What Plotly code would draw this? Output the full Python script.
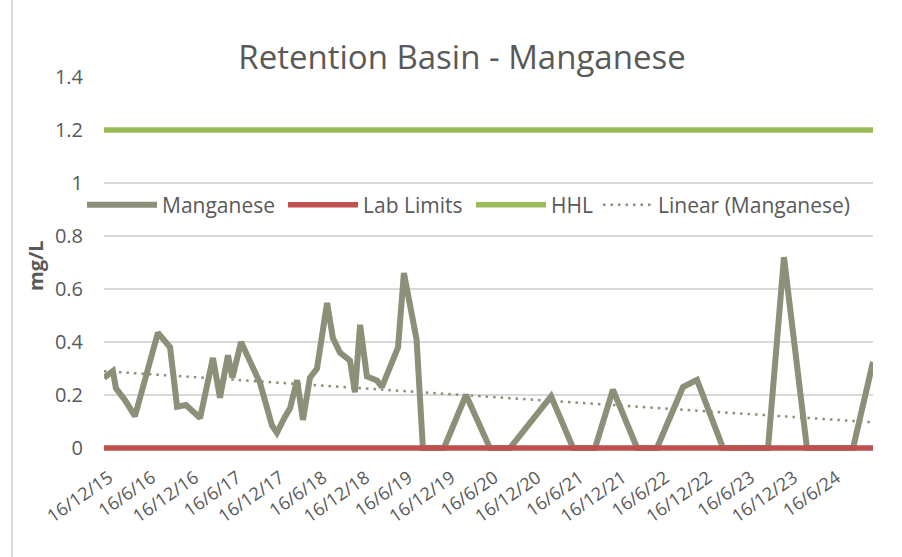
import plotly.graph_objects as go

# ---------------- data ----------------
sample_dates = [
    "2015-12-16", "2016-01-23", "2016-02-05", "2016-03-15", "2016-04-26",
    "2016-08-02", "2016-09-23", "2016-10-23", "2016-11-30", "2017-01-29",
    "2017-03-25", "2017-04-24", "2017-05-28", "2017-06-16", "2017-07-23",
    "2017-10-12", "2017-12-02", "2017-12-23", "2018-01-26", "2018-02-17",
    "2018-03-19", "2018-04-13", "2018-05-13", "2018-06-12", "2018-07-25",
    "2018-08-19", "2018-09-18", "2018-10-31", "2018-11-21", "2018-12-13",
    "2019-01-11", "2019-02-23", "2019-03-16", "2019-05-24", "2019-06-18",
    "2019-08-11", "2019-09-07", "2019-12-06", "2020-03-09", "2020-06-19",
    "2020-09-13", "2021-03-07", "2021-06-09", "2021-09-11", "2021-11-26",
    "2022-03-09", "2022-06-02", "2022-09-21", "2022-11-20", "2023-03-11",
    "2023-09-19", "2023-11-26", "2024-03-03", "2024-09-16", "2024-12-10",
]
manganese = [
    0.265, 0.29, 0.225, 0.18, 0.12,
    0.435, 0.38, 0.156, 0.162, 0.113,
    0.34, 0.19, 0.35, 0.265, 0.40,
    0.245, 0.085, 0.057, 0.117, 0.15,
    0.256, 0.106, 0.265, 0.30, 0.547,
    0.415, 0.36, 0.33, 0.21, 0.465,
    0.27, 0.255, 0.23, 0.38, 0.66,
    0.41, 0.0, 0.0, 0.2, 0.0,
    0.0, 0.195, 0.0, 0.0, 0.22,
    0.0, 0.0, 0.23, 0.257, 0.0,
    0.0, 0.72, 0.0, 0.0, 0.325,
]
lab_limit_value = 0.0
hhl_value = 1.2
trend_dates = [sample_dates[0], sample_dates[-1]]
trend_values = [0.29, 0.097]

tick_dates = [
    "2015-12-16", "2016-06-16", "2016-12-16", "2017-06-16", "2017-12-16",
    "2018-06-16", "2018-12-16", "2019-06-16", "2019-12-16", "2020-06-16",
    "2020-12-16", "2021-06-16", "2021-12-16", "2022-06-16", "2022-12-16",
    "2023-06-16", "2023-12-16", "2024-06-16",
]
tick_labels = [
    "16/12/15", "16/6/16", "16/12/16", "16/6/17", "16/12/17", "16/6/18",
    "16/12/18", "16/6/19", "16/12/19", "16/6/20", "16/12/20", "16/6/21",
    "16/12/21", "16/6/22", "16/12/22", "16/6/23", "16/12/23", "16/6/24",
]
y_ticks = [0, 0.2, 0.4, 0.6, 0.8, 1.0, 1.2, 1.4]
y_tick_labels = ["0", "0.2", "0.4", "0.6", "0.8", "1", "1.2", "1.4"]

# ---------------- styles ----------------
FONT = "Open Sans, Liberation Sans, sans-serif"
TXT = "#595959"
C_MN = "#8b9079"
C_LAB = "#c0504d"
C_HHL = "#9bbb59"

fig = go.Figure()
fig.add_trace(go.Scatter(
    x=sample_dates, y=manganese, mode="lines", name="Manganese",
    line=dict(color=C_MN, width=6), legend="legend",
))
fig.add_trace(go.Scatter(
    x=sample_dates, y=[lab_limit_value] * len(sample_dates), mode="lines",
    name="Lab Limits", line=dict(color=C_LAB, width=5.5), legend="legend2",
))
fig.add_trace(go.Scatter(
    x=sample_dates, y=[hhl_value] * len(sample_dates), mode="lines",
    name="HHL", line=dict(color=C_HHL, width=5.5), legend="legend3",
))
fig.add_trace(go.Scatter(
    x=trend_dates, y=trend_values, mode="lines", name="Linear (Manganese)",
    line=dict(color=C_MN, width=2.5, dash="2.5px,5px"), legend="legend4",
))

W, H = 902, 557
L, R, T, B = 104, 29, 77, 104
plot_w = W - L - R
plot_h = H - T - B


def legend_at(px_left, item_w):
    return dict(
        orientation="h",
        xref="paper", x=(px_left - L) / plot_w, xanchor="left",
        yref="paper", y=(H - B - 205) / plot_h, yanchor="middle",
        font=dict(family=FONT, size=21, color=TXT),
        bgcolor="rgba(255,255,255,0)",
        itemwidth=item_w,
    )


fig.update_layout(
    width=W, height=H,
    margin=dict(l=L, r=R, t=T, b=B),
    paper_bgcolor="white", plot_bgcolor="white",
    font=dict(family=FONT, color=TXT),
    title=dict(
        text="Retention Basin - Manganese",
        font=dict(family=FONT, size=33, color=TXT),
        x=462 / W, xanchor="center", xref="container",
        y=1 - 57 / H, yanchor="middle", yref="container",
    ),
    showlegend=True,
    legend=legend_at(82, 70),
    legend2=legend_at(283, 70),
    legend3=legend_at(471, 70),
    legend4=legend_at(598, 50),
    xaxis=dict(
        type="date",
        range=[sample_dates[0], sample_dates[-1]],
        tickvals=tick_dates, ticktext=tick_labels,
        tickangle=-35,
        tickfont=dict(family=FONT, size=18, color=TXT),
        showgrid=False, zeroline=False, showline=False,
        ticks="", ticklabelstandoff=10, ticklabelshift=5,
    ),
    yaxis=dict(
        range=[-5 / 265, 1.4],
        tickvals=y_ticks, ticktext=y_tick_labels,
        tickfont=dict(family=FONT, size=20, color=TXT),
        showgrid=True, gridcolor="#d9d9d9", gridwidth=2,
        zeroline=False, showline=False, ticks="",
        ticklabelstandoff=20,
    ),
    annotations=[dict(
        text="<b>mg/L</b>", textangle=-90,
        x=(35 - L) / plot_w, xref="paper", xanchor="center",
        y=(H - B - 266) / plot_h, yref="paper", yanchor="middle",
        showarrow=False, font=dict(family=FONT, size=20, color=TXT),
    )],
    shapes=[dict(
        type="line", xref="paper", yref="paper",
        x0=(12 - L) / plot_w, x1=(12 - L) / plot_w,
        y0=-B / plot_h, y1=(H - B) / plot_h,
        line=dict(color="#d9d9d9", width=2),
    )],
)

fig.write_html(
    "out.html",
    config={"displayModeBar": False},
    post_script="document.body.style.margin='0';",
)
